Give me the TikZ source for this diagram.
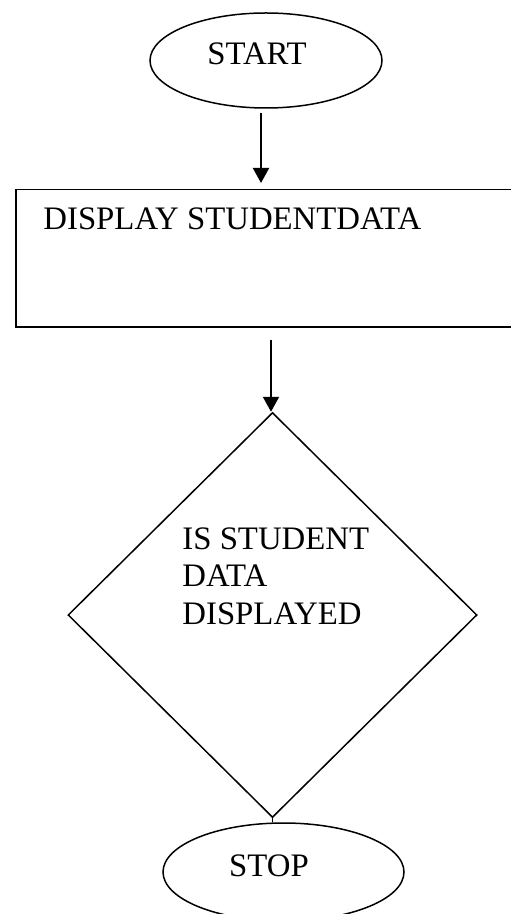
\documentclass[tikz,border=0pt]{standalone}
\usepackage{fontspec}
\setmainfont{Liberation Serif}
\usetikzlibrary{shapes.geometric,arrows.meta}
\tikzset{
  shp/.style={draw,line width=0.75pt,inner sep=0pt},
  txt/.style={inner sep=0pt,font=\fontsize{16.4}{18.75}\selectfont},
  arr/.style={line width=1pt,-{Triangle[length=7.5pt,width=8pt]}}
}
\begin{document}
\begin{tikzpicture}[x=0.5pt,y=-0.5pt]
\useasboundingbox (0,0) rectangle (510,914);
\node[shp,ellipse,minimum width=116pt,minimum height=47.5pt] (start) at (266,60.5) {};
\node[txt] (starttxt) at ([xshift=-4.5pt,yshift=3.25pt]start.center) {START};
\node[shp,rectangle,anchor=north west,minimum width=250pt,minimum height=68.5pt] (disp) at (15,189) {};
\node[txt,anchor=base west] (disptxt) at (43,230) {DISPLAY STUDENTDATA};
\node[shp,diamond,minimum width=204.5pt,minimum height=202.5pt] (dec) at (272.5,615) {};
\node[txt,anchor=north west,align=left] (dectxt) at (182,527) {IS STUDENT\\DATA\\DISPLAYED};
\node[shp,ellipse,minimum width=120.5pt,minimum height=49pt] (stop) at (283.5,872) {};
\node[txt] (stoptxt) at ([xshift=-7.25pt,yshift=3.25pt]stop.center) {STOP};
\draw[arr,shorten <=2pt,shorten >=3pt] ([xshift=-2.5pt]start.south) -- ([xshift=-2.5pt]start.south |- disp.north);
\draw[arr,shorten <=6pt] ([xshift=-0.75pt]dec.north |- disp.south) -- ([xshift=-0.75pt]dec.north);
\draw[line width=0.75pt] (dec.south) -- (dec.south |- stop.north);
\end{tikzpicture}
\end{document}
